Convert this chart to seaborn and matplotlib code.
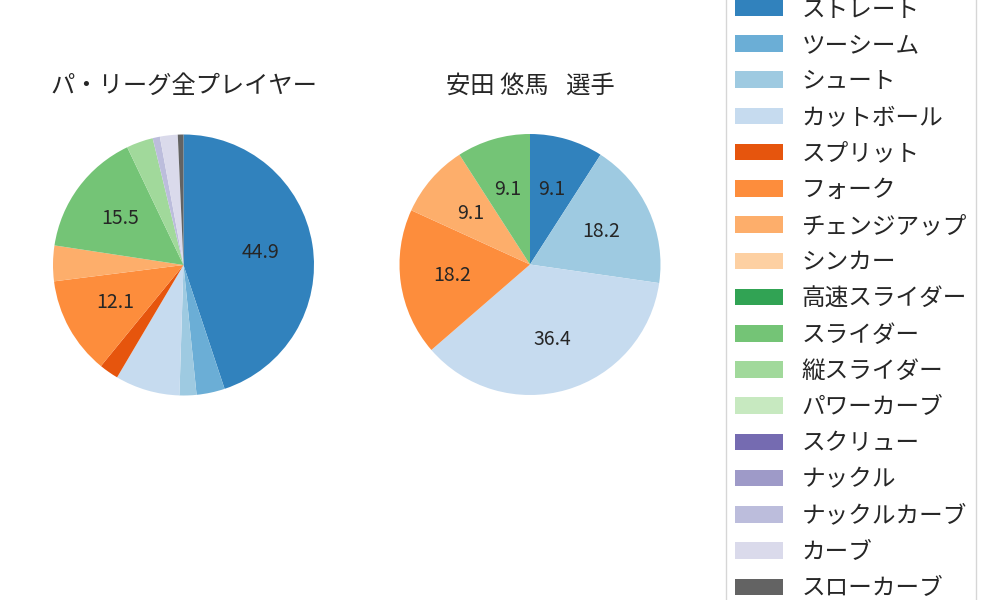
import matplotlib
matplotlib.use("Agg")
import matplotlib.pyplot as plt
import seaborn as sns
from matplotlib.patches import Patch

# ---- data ----
pitch_types = ["ストレート", "ツーシーム", "シュート", "カットボール", "スプリット", "フォーク",
               "チェンジアップ", "シンカー", "高速スライダー", "スライダー", "縦スライダー",
               "パワーカーブ", "スクリュー", "ナックル", "ナックルカーブ", "カーブ", "スローカーブ"]
league_share = [44.9, 3.5, 2.1, 8.0, 2.4, 12.1, 4.4, 0, 0, 15.5, 3.3, 0, 0, 0, 0.9, 2.2, 0.7]
player_counts = [1, 0, 2, 4, 0, 2, 1, 0, 0, 1, 0, 0, 0, 0, 0, 0, 0]
titles = ["パ・リーグ全プレイヤー", "安田 悠馬\u2002 選手"]

sns.set_style("white")
plt.rcParams["font.family"] = ["Noto Sans CJK JP", "DejaVu Sans"]

colors = sns.color_palette("tab20c", len(pitch_types))

fig = plt.figure(figsize=(10, 6), dpi=100)
W, H = 1000, 600
R = 130.5
centers = [(183.5, 265), (530, 264.5)]


def pct_fmt(p):
    return f"{p:.1f}" if p >= 9 else ""


for (cx, cy), title, values in zip(centers, titles, [league_share, player_counts]):
    ax = fig.add_axes([(cx - R) / W, (H - cy - R) / H, 2 * R / W, 2 * R / H])
    vals = [v for v in values if v > 0]
    cols = [c for c, v in zip(colors, values) if v > 0]
    ax.pie(vals, colors=cols, startangle=90, counterclock=False,
           autopct=pct_fmt, pctdistance=0.6, textprops={"fontsize": 14},
           wedgeprops={"linewidth": 0})
    ax.set_xlim(-1, 1)
    ax.set_ylim(-1, 1)
    ax.set_aspect("equal")
    ax.set_title(title, fontsize=17.5, pad=30)

handles = [Patch(facecolor=c, edgecolor="none", label=l) for c, l in zip(colors, pitch_types)]
fig.legend(handles=handles, loc="center left", bbox_to_anchor=(0.726, 0.502),
           borderaxespad=0, fontsize=17, labelspacing=0.56, frameon=True)

fig.savefig("out.png", dpi=100)
